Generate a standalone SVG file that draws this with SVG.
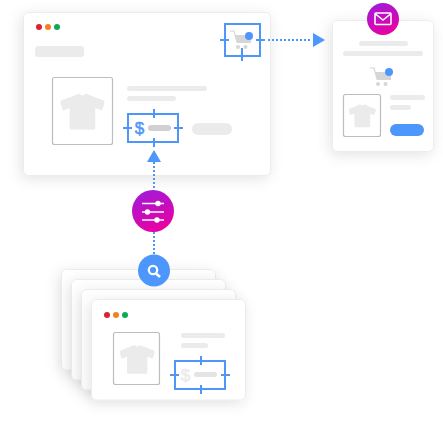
<svg xmlns="http://www.w3.org/2000/svg" xmlns:xlink="http://www.w3.org/1999/xlink" width="443" height="421" viewBox="0 0 443 421">
<style>
.card{fill:#fff;stroke:#ececec;stroke-width:1;filter:url(#sh)}
.bar{fill:#ebebeb}
.thumb{fill:#fff;stroke:#bdbdbd;stroke-width:1.2}
.sel{fill:none;stroke:#4d96fb;stroke-width:2}
.tick{stroke:#4d96fb;stroke-width:2;fill:none}
.dot{stroke:#4d96fb;stroke-width:2;stroke-dasharray:2 2;fill:none}
.head{fill:#4d96fb}
.white{stroke:#fff;stroke-width:1.6;fill:none}
.dollar{font-family:"Liberation Sans",Arial,sans-serif;font-size:17px;font-weight:400;stroke-width:.5;text-anchor:middle}
</style>
<defs>
<filter id="sh" x="-25%" y="-25%" width="150%" height="150%"><feDropShadow dx="-2" dy="3" stdDeviation="7" flood-color="#000" flood-opacity=".11"/></filter>
<linearGradient id="g" x1=".3" y1="0" x2=".7" y2="1"><stop offset="0" stop-color="#a319d8"/><stop offset="1" stop-color="#ec00a0"/></linearGradient>
<path id="tee" d="M-5-18 L-15-15 -29-11 Q-31-10 -30.500-8 L-28-2 Q-27.500 0-25 -1 L-18-3 -18 17 Q-18 19-16 19 L15 19 Q17 19 17 17 L17-3 24-1 Q26.500 0 27-2 L29.500-8 Q30-10 28-11 L14-15 4-18 Q0-14-5-18Z" fill="#ebebeb"/>
<g id="cart"><path d="M-11-7 L-7-7 -4 4 9 4" fill="none" stroke="#d6d6d6" stroke-width="1.200"/><path d="M-6-3 L10-3 10 5 -4 5Z" fill="#d6d6d6"/><circle cx="-3" cy="9" r="2" fill="#d6d6d6"/><circle cx="4.500" cy="9" r="2" fill="#d6d6d6"/></g>
</defs>

<g id="main-window">
<rect class="card" x="23.500" y="12.500" width="247" height="163" rx="5"/>
<circle cx="39" cy="27" r="3" fill="#dc2230"/><circle cx="48" cy="27" r="3" fill="#f5801e"/><circle cx="57" cy="27" r="3" fill="#0bab55"/>
<rect class="bar" x="35" y="46" width="49" height="11" rx="3"/>
<rect class="thumb" x="52.500" y="77.500" width="60" height="67" rx="2"/>
<use xlink:href="#tee" href="#tee" transform="translate(82.800 111)scale(.73 .97)"/>
<rect class="bar" x="127" y="86" width="80" height="5" rx="2.500"/>
<rect class="bar" x="127" y="96" width="49" height="5" rx="2.500"/>
<rect class="bar" x="192" y="123" width="40" height="12" rx="6"/>
</g>

<g id="email-card">
<rect class="card" x="332.500" y="20.500" width="101" height="131" rx="5"/>
<rect class="bar" x="359" y="41" width="49" height="5" rx="2.500"/>
<rect class="bar" x="343" y="51" width="80" height="5" rx="2.500"/>
<use xlink:href="#cart" href="#cart" transform="translate(381 75)"/>
<circle cx="389" cy="72" r="4" fill="#4d96fb"/>
<rect class="thumb" x="343.500" y="94.500" width="37" height="42" rx="2"/>
<use xlink:href="#tee" href="#tee" transform="translate(362.500 115.500)scale(.45 .62)"/>
<rect class="bar" x="390" y="95" width="35" height="5" rx="2.500"/>
<rect class="bar" x="390" y="105" width="21" height="5" rx="2.500"/>
<rect x="390" y="124" width="34" height="12" rx="6" fill="#4d96fb"/>
</g>

<g id="connectors">
<path class="dot" d="M268 40H312"/><path class="head" d="M313 33L325 40 313 47Z"/>
<path class="dot" d="M154 162V190"/><path class="head" d="M154 150L161 162H147Z"/>
<path class="dot" d="M154 232V256"/>
</g>

<g id="price-selection">
<text class="dollar" x="139.500" y="134" fill="#4d96fb" stroke="#4d96fb">$</text>
<rect x="148" y="125" width="23" height="6" rx="3" fill="#d0d0d0"/>
<rect class="sel" x="128" y="114" width="50" height="28"/>
<path class="tick" d="M154 109V118M154 138V147M123 128H132M174 128H183"/>
</g>

<g id="cart-selection">
<use xlink:href="#cart" href="#cart" transform="translate(241 38)"/>
<circle cx="249" cy="36" r="4" fill="#4d96fb"/>
<rect class="sel" x="225" y="24" width="35" height="32"/>
<path class="tick" d="M220 40H229M256 40H265M242 48V61"/>
</g>

<g id="email-badge">
<circle cx="383" cy="19" r="16" fill="url(#g)"/>
<rect class="white" x="375" y="13" width="16" height="11.500" rx="1"/>
<path class="white" d="M375.500 14L383 20 390.500 14"/>
</g>

<g id="filter-badge">
<circle cx="153" cy="211" r="21" fill="url(#g)"/>
<path class="white" d="M142 203.500H164M142 212H164M142 220H164"/>
<circle cx="158" cy="203.500" r="2.700" fill="#fff"/><circle cx="147.500" cy="212" r="2.700" fill="#fff"/><circle cx="157" cy="220" r="2.700" fill="#fff"/>
</g>

<g id="page-stack">
<rect class="card" x="61.500" y="269.500" width="154" height="100.500" rx="5"/>
<rect class="card" x="71.500" y="279.500" width="154" height="100.500" rx="5"/>
<rect class="card" x="81.500" y="289.500" width="154" height="100.500" rx="5"/>
</g>

<g id="search-badge">
<circle cx="154" cy="270.500" r="16" fill="#4d96fb"/>
<circle cx="153" cy="270" r="4.200" fill="none" stroke="#fff" stroke-width="2.200"/>
<path d="M156 273.500L160 277" stroke="#fff" stroke-width="2.600" fill="none"/>
</g>

<g id="front-page">
<rect class="card" x="91.500" y="299.500" width="154" height="100.500" rx="5"/>
<circle cx="107" cy="315" r="3" fill="#dc2230"/><circle cx="116" cy="315" r="3" fill="#f5801e"/><circle cx="125" cy="315" r="3" fill="#0bab55"/>
<rect class="thumb" x="113.500" y="332.500" width="46" height="52" rx="2"/>
<use xlink:href="#tee" href="#tee" transform="translate(137.500 359)scale(.58 .78)"/>
<rect class="bar" x="181" y="333" width="44" height="5" rx="2.500"/>
<rect class="bar" x="181" y="343" width="27" height="5" rx="2.500"/>
</g>

<g id="stack-price-selection">
<text class="dollar" x="185.500" y="381" fill="#ebebeb" stroke="#ebebeb">$</text>
<rect x="194" y="372" width="23" height="5" rx="2.500" fill="#e4e4e4"/>
<rect class="sel" x="175" y="361" width="50" height="28"/>
<path class="tick" d="M201 356V365M201 385V394M170 375H179M221 375H230"/>
</g>
</svg>
